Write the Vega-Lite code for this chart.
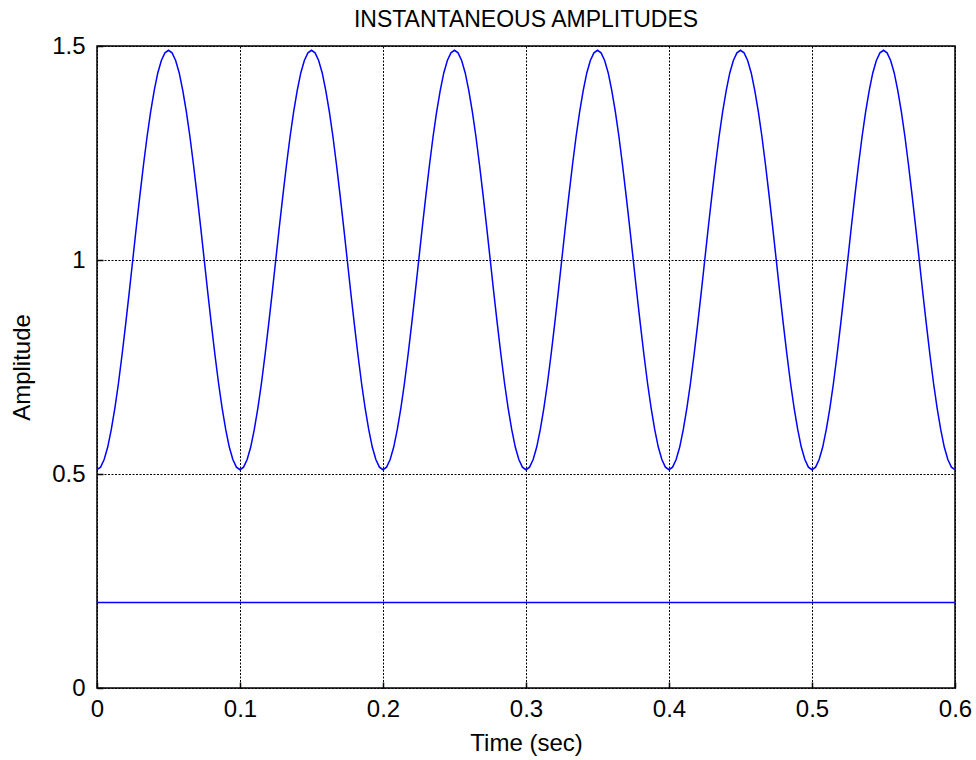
{
  "$schema": "https://vega.github.io/schema/vega-lite/v6.json",
  "width": 858,
  "height": 642,
  "padding": {"left": 97, "top": 46, "right": 21, "bottom": 72},
  "autosize": {"type": "none"},
  "background": "white",
  "title": {"text": "INSTANTANEOUS AMPLITUDES", "fontSize": 23, "fontWeight": "normal", "font": "Liberation Sans", "color": "black", "offset": 2},
  "config": {
    "view": {"stroke": "black", "strokeWidth": 1.5},
    "axis": {
      "labelFont": "Liberation Sans", "titleFont": "Liberation Sans",
      "labelFontSize": 24, "titleFontSize": 24, "titleFontWeight": "normal",
      "labelColor": "black", "titleColor": "black",
      "domain": false, "grid": true, "gridColor": "black", "gridDash": [2, 1.5], "gridOpacity": 1, "gridWidth": 1,
      "tickColor": "black", "tickSize": -6, "tickWidth": 1.5
    }
  },
  "datasets": {
    "curve": [
{"t":0,"a":0.51},{"t":0.0025,"a":0.516},{"t":0.005,"a":0.534},{"t":0.0075,"a":0.563},{"t":0.01,"a":0.604},{"t":0.0125,"a":0.654},{"t":0.015,"a":0.712},{"t":0.0175,"a":0.778},{"t":0.02,"a":0.849},{"t":0.0225,"a":0.923},{"t":0.025,"a":1},{"t":0.0275,"a":1.077},{"t":0.03,"a":1.151},{"t":0.0325,"a":1.222},{"t":0.035,"a":1.288},{"t":0.0375,"a":1.346},{"t":0.04,"a":1.396},{"t":0.0425,"a":1.437},{"t":0.045,"a":1.466},{"t":0.0475,"a":1.484},{"t":0.05,"a":1.49},{"t":0.0525,"a":1.484},{"t":0.055,"a":1.466},{"t":0.0575,"a":1.437},{"t":0.06,"a":1.396},{"t":0.0625,"a":1.346},{"t":0.065,"a":1.288},{"t":0.0675,"a":1.222},{"t":0.07,"a":1.151},{"t":0.0725,"a":1.077},{"t":0.075,"a":1},{"t":0.0775,"a":0.923},{"t":0.08,"a":0.849},{"t":0.0825,"a":0.778},{"t":0.085,"a":0.712},{"t":0.0875,"a":0.654},{"t":0.09,"a":0.604},{"t":0.0925,"a":0.563},{"t":0.095,"a":0.534},{"t":0.0975,"a":0.516},
{"t":0.1,"a":0.51},{"t":0.1025,"a":0.516},{"t":0.105,"a":0.534},{"t":0.1075,"a":0.563},{"t":0.11,"a":0.604},{"t":0.1125,"a":0.654},{"t":0.115,"a":0.712},{"t":0.1175,"a":0.778},{"t":0.12,"a":0.849},{"t":0.1225,"a":0.923},{"t":0.125,"a":1},{"t":0.1275,"a":1.077},{"t":0.13,"a":1.151},{"t":0.1325,"a":1.222},{"t":0.135,"a":1.288},{"t":0.1375,"a":1.346},{"t":0.14,"a":1.396},{"t":0.1425,"a":1.437},{"t":0.145,"a":1.466},{"t":0.1475,"a":1.484},{"t":0.15,"a":1.49},{"t":0.1525,"a":1.484},{"t":0.155,"a":1.466},{"t":0.1575,"a":1.437},{"t":0.16,"a":1.396},{"t":0.1625,"a":1.346},{"t":0.165,"a":1.288},{"t":0.1675,"a":1.222},{"t":0.17,"a":1.151},{"t":0.1725,"a":1.077},{"t":0.175,"a":1},{"t":0.1775,"a":0.923},{"t":0.18,"a":0.849},{"t":0.1825,"a":0.778},{"t":0.185,"a":0.712},{"t":0.1875,"a":0.654},{"t":0.19,"a":0.604},{"t":0.1925,"a":0.563},{"t":0.195,"a":0.534},{"t":0.1975,"a":0.516},
{"t":0.2,"a":0.51},{"t":0.2025,"a":0.516},{"t":0.205,"a":0.534},{"t":0.2075,"a":0.563},{"t":0.21,"a":0.604},{"t":0.2125,"a":0.654},{"t":0.215,"a":0.712},{"t":0.2175,"a":0.778},{"t":0.22,"a":0.849},{"t":0.2225,"a":0.923},{"t":0.225,"a":1},{"t":0.2275,"a":1.077},{"t":0.23,"a":1.151},{"t":0.2325,"a":1.222},{"t":0.235,"a":1.288},{"t":0.2375,"a":1.346},{"t":0.24,"a":1.396},{"t":0.2425,"a":1.437},{"t":0.245,"a":1.466},{"t":0.2475,"a":1.484},{"t":0.25,"a":1.49},{"t":0.2525,"a":1.484},{"t":0.255,"a":1.466},{"t":0.2575,"a":1.437},{"t":0.26,"a":1.396},{"t":0.2625,"a":1.346},{"t":0.265,"a":1.288},{"t":0.2675,"a":1.222},{"t":0.27,"a":1.151},{"t":0.2725,"a":1.077},{"t":0.275,"a":1},{"t":0.2775,"a":0.923},{"t":0.28,"a":0.849},{"t":0.2825,"a":0.778},{"t":0.285,"a":0.712},{"t":0.2875,"a":0.654},{"t":0.29,"a":0.604},{"t":0.2925,"a":0.563},{"t":0.295,"a":0.534},{"t":0.2975,"a":0.516},
{"t":0.3,"a":0.51},{"t":0.3025,"a":0.516},{"t":0.305,"a":0.534},{"t":0.3075,"a":0.563},{"t":0.31,"a":0.604},{"t":0.3125,"a":0.654},{"t":0.315,"a":0.712},{"t":0.3175,"a":0.778},{"t":0.32,"a":0.849},{"t":0.3225,"a":0.923},{"t":0.325,"a":1},{"t":0.3275,"a":1.077},{"t":0.33,"a":1.151},{"t":0.3325,"a":1.222},{"t":0.335,"a":1.288},{"t":0.3375,"a":1.346},{"t":0.34,"a":1.396},{"t":0.3425,"a":1.437},{"t":0.345,"a":1.466},{"t":0.3475,"a":1.484},{"t":0.35,"a":1.49},{"t":0.3525,"a":1.484},{"t":0.355,"a":1.466},{"t":0.3575,"a":1.437},{"t":0.36,"a":1.396},{"t":0.3625,"a":1.346},{"t":0.365,"a":1.288},{"t":0.3675,"a":1.222},{"t":0.37,"a":1.151},{"t":0.3725,"a":1.077},{"t":0.375,"a":1},{"t":0.3775,"a":0.923},{"t":0.38,"a":0.849},{"t":0.3825,"a":0.778},{"t":0.385,"a":0.712},{"t":0.3875,"a":0.654},{"t":0.39,"a":0.604},{"t":0.3925,"a":0.563},{"t":0.395,"a":0.534},{"t":0.3975,"a":0.516},
{"t":0.4,"a":0.51},{"t":0.4025,"a":0.516},{"t":0.405,"a":0.534},{"t":0.4075,"a":0.563},{"t":0.41,"a":0.604},{"t":0.4125,"a":0.654},{"t":0.415,"a":0.712},{"t":0.4175,"a":0.778},{"t":0.42,"a":0.849},{"t":0.4225,"a":0.923},{"t":0.425,"a":1},{"t":0.4275,"a":1.077},{"t":0.43,"a":1.151},{"t":0.4325,"a":1.222},{"t":0.435,"a":1.288},{"t":0.4375,"a":1.346},{"t":0.44,"a":1.396},{"t":0.4425,"a":1.437},{"t":0.445,"a":1.466},{"t":0.4475,"a":1.484},{"t":0.45,"a":1.49},{"t":0.4525,"a":1.484},{"t":0.455,"a":1.466},{"t":0.4575,"a":1.437},{"t":0.46,"a":1.396},{"t":0.4625,"a":1.346},{"t":0.465,"a":1.288},{"t":0.4675,"a":1.222},{"t":0.47,"a":1.151},{"t":0.4725,"a":1.077},{"t":0.475,"a":1},{"t":0.4775,"a":0.923},{"t":0.48,"a":0.849},{"t":0.4825,"a":0.778},{"t":0.485,"a":0.712},{"t":0.4875,"a":0.654},{"t":0.49,"a":0.604},{"t":0.4925,"a":0.563},{"t":0.495,"a":0.534},{"t":0.4975,"a":0.516},
{"t":0.5,"a":0.51},{"t":0.5025,"a":0.516},{"t":0.505,"a":0.534},{"t":0.5075,"a":0.563},{"t":0.51,"a":0.604},{"t":0.5125,"a":0.654},{"t":0.515,"a":0.712},{"t":0.5175,"a":0.778},{"t":0.52,"a":0.849},{"t":0.5225,"a":0.923},{"t":0.525,"a":1},{"t":0.5275,"a":1.077},{"t":0.53,"a":1.151},{"t":0.5325,"a":1.222},{"t":0.535,"a":1.288},{"t":0.5375,"a":1.346},{"t":0.54,"a":1.396},{"t":0.5425,"a":1.437},{"t":0.545,"a":1.466},{"t":0.5475,"a":1.484},{"t":0.55,"a":1.49},{"t":0.5525,"a":1.484},{"t":0.555,"a":1.466},{"t":0.5575,"a":1.437},{"t":0.56,"a":1.396},{"t":0.5625,"a":1.346},{"t":0.565,"a":1.288},{"t":0.5675,"a":1.222},{"t":0.57,"a":1.151},{"t":0.5725,"a":1.077},{"t":0.575,"a":1},{"t":0.5775,"a":0.923},{"t":0.58,"a":0.849},{"t":0.5825,"a":0.778},{"t":0.585,"a":0.712},{"t":0.5875,"a":0.654},{"t":0.59,"a":0.604},{"t":0.5925,"a":0.563},{"t":0.595,"a":0.534},{"t":0.5975,"a":0.516},
{"t":0.6,"a":0.51}
    ],
    "flat": [{"t":0,"a":0.2},{"t":0.6,"a":0.2}]
  },
  "layer": [
    {
      "data": {"name": "flat"},
      "mark": {"type": "line", "color": "#0000ff", "strokeWidth": 1.5},
      "encoding": {
        "x": {"field": "t", "type": "quantitative", "scale": {"domain": [0, 0.6], "nice": false, "zero": false},
              "axis": {"title": "Time (sec)", "values": [0, 0.1, 0.2, 0.3, 0.4, 0.5, 0.6], "format": "~g", "labelPadding": 15, "titlePadding": 10, "labelFlush": false}},
        "y": {"field": "a", "type": "quantitative", "scale": {"domain": [0, 1.5], "nice": false},
              "axis": {"title": "Amplitude", "values": [0, 0.5, 1, 1.5], "format": "~g", "labelPadding": 18, "titlePadding": 17, "labelFlush": false}}
      }
    },
    {
      "data": {"name": "curve"},
      "mark": {"type": "line", "color": "#0000ff", "strokeWidth": 1.5},
      "encoding": {
        "x": {"field": "t", "type": "quantitative"},
        "y": {"field": "a", "type": "quantitative"}
      }
    }
  ]
}
